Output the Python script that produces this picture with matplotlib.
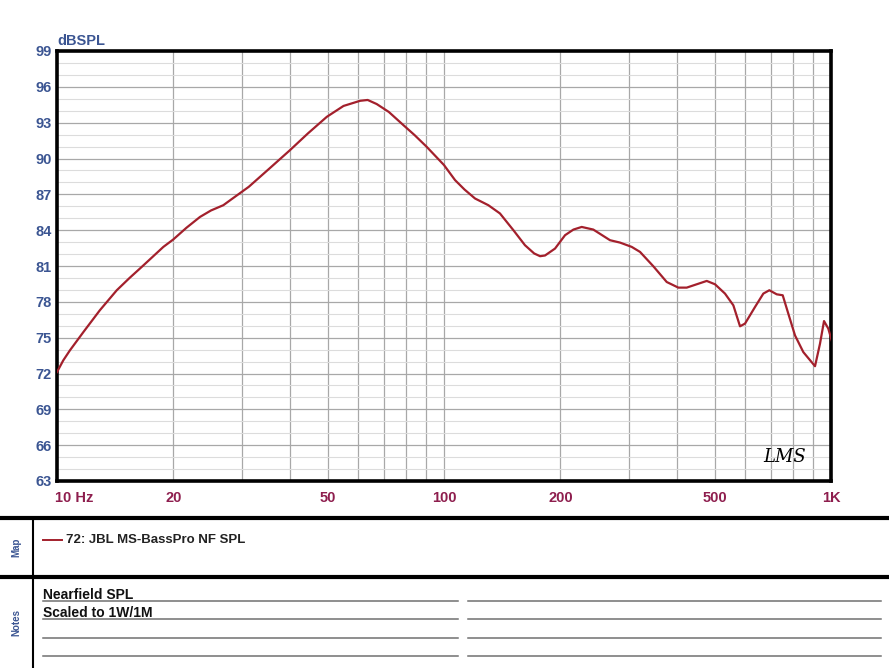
import matplotlib.pyplot as plt
import matplotlib
import numpy as np

matplotlib.use("Agg")
plt.rcParams['font.family'] = ['Liberation Sans', 'DejaVu Sans']

# measured curve (Hz, dBSPL)
freq = [10.0, 10.38, 10.8, 11.7, 12.9, 14.27, 15.4, 16.55, 18.83, 19.97, 21.6, 23.42,
        25.0, 26.9, 28.0, 31.3, 35.5, 40.0, 44.5, 49.8, 55.0, 60.7, 63.5, 67.0, 72.0,
        78.5, 84.0, 90.2, 100.0, 106.8, 113.0, 120.3, 130.2, 139.5, 151.1, 161.9,
        171.0, 177.1, 182.4, 193.6, 205.5, 216.0, 226.9, 243.1, 268.5, 285.0,
        305.5, 321.0, 347.4, 376.3, 403.2, 423.8, 449.8, 477.4, 501.5, 532.2,
        559.3, 582.0, 599.6, 636.3, 668.6, 692.9, 724.0, 750.3, 775.7, 807.2,
        848.2, 909.3, 936.7, 959.3, 984.0, 1004.0]
spl = [72.12, 73.1, 73.94, 75.47, 77.29, 78.97, 80.0, 80.92, 82.6, 83.22, 84.2, 85.11,
       85.65, 86.09, 86.5, 87.63, 89.2, 90.7, 92.1, 93.49, 94.4, 94.83, 94.9, 94.56, 93.9,
       92.8, 91.95, 90.98, 89.45, 88.19, 87.4, 86.65, 86.09, 85.4, 84.0, 82.74,
       82.05, 81.82, 81.88, 82.46, 83.58, 84.05, 84.27, 84.05, 83.16, 82.96,
       82.6, 82.18, 80.98, 79.66, 79.19, 79.19, 79.47, 79.75, 79.47, 78.69,
       77.71, 75.95, 76.18, 77.57, 78.69, 78.97, 78.63, 78.55, 77.01, 75.19,
       73.79, 72.61, 74.5, 76.39, 75.76, 74.78]

y_ticks = list(range(63, 100, 3))
x_ticks = [10, 20, 50, 100, 200, 500, 1000]
x_labels = ['10 Hz', '20', '50', '100', '200', '500', '1K']
legend_label = '72: JBL MS-BassPro NF SPL'
notes = ['Nearfield SPL', 'Scaled to 1W/1M']

W, H = 889, 668
fig = plt.figure(figsize=(W / 100, H / 100), dpi=100)


def px_rect(x0, y0, x1, y1):
    return [x0 / W, 1 - y1 / H, (x1 - x0) / W, (y1 - y0) / H]


blue = '#3b5592'
maroon = '#8e1e4e'
curve_c = '#a3202c'

ax = fig.add_axes(px_rect(57, 51, 831, 481))
ax.set_xscale('log')
ax.set_xlim(10, 1000)
ax.set_ylim(63, 99)

# grid
for d in [10, 100]:
    for m in range(1, 10):
        f = d * m
        if 10 < f < 1000:
            ax.axvline(f, color='#a8a8a8', lw=0.9, zorder=1)
for v in range(64, 99):
    major = (v - 63) % 3 == 0
    ax.axhline(v, color='#a8a8a8' if major else '#dcdcdc', lw=0.9 if major else 0.8, zorder=1)

ax.plot(freq, spl, color=curve_c, lw=1.6, zorder=3)

for s in ax.spines.values():
    s.set_linewidth(2.6)
    s.set_color('black')

ax.set_yticks(y_ticks)
ax.set_yticklabels([str(v) for v in y_ticks], color=blue, fontweight='bold', fontsize=10.5)
ax.set_xticks([])
ax.minorticks_off()
ax.tick_params(axis='y', length=0, pad=4)
ax.xaxis.set_minor_locator(matplotlib.ticker.NullLocator())

for f, lab in zip(x_ticks, x_labels):
    ha = 'left' if f == 10 else 'center'
    ax.text(f * (0.99 if f == 10 else 1.0), -0.024, lab, transform=ax.get_xaxis_transform(),
            ha=ha, va='top', color=maroon, fontweight='bold', fontsize=10.5)

fig.text(57 / W, 1 - 41 / H, 'dBSPL', color=blue, fontweight='bold', fontsize=10.5,
         ha='left', va='center')
ax.text(0.968, 0.035, 'LMS', transform=ax.transAxes, ha='right', va='bottom',
        fontsize=13, style='italic', family=['DejaVu Serif'], color='black')

# lower panels
ov = fig.add_axes([0, 0, 1, 1])
ov.set_xlim(0, W)
ov.set_ylim(H, 0)
ov.axis('off')
ov.patch.set_alpha(0)
ov.plot([0, W], [518, 518], color='black', lw=3)
ov.plot([0, W], [577, 577], color='black', lw=3)
ov.plot([33, 33], [518, H], color='black', lw=1.5)
ov.text(16, 547, 'Map', rotation=90, color=blue, fontsize=7, fontweight='bold',
        ha='center', va='center')
ov.text(16, 622, 'Notes', rotation=90, color=blue, fontsize=7, fontweight='bold',
        ha='center', va='center')
ov.plot([43, 62], [540, 540], color=curve_c, lw=1.4)
ov.text(66, 540, legend_label, fontsize=9.5, fontweight='bold', ha='left', va='center',
        color='#222222')
for yy in [601, 619, 638, 656]:
    ov.plot([43, 458], [yy, yy], color='#707070', lw=1.1)
    ov.plot([468, 881], [yy, yy], color='#707070', lw=1.1)
for yy, t in zip([595, 613], notes):
    ov.text(43, yy, t, fontsize=10, fontweight='bold', ha='left', va='center',
            color='#111111')

fig.savefig('out.png', dpi=100)
